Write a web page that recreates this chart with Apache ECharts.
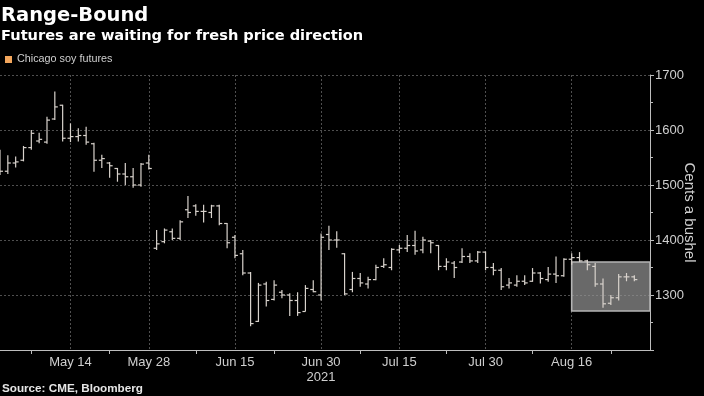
<!DOCTYPE html>
<html><head><meta charset="utf-8">
<script src="https://cdn.jsdelivr.net/npm/echarts@6/dist/echarts.min.js"></script>
<style>html,body{margin:0;padding:0;background:#000}#c{width:704px;height:396px}</style>
</head><body><div id="c"></div>
<script>
// Trading days shown (May 3 – Aug 26, 2021)
const dates = ['May 3','May 4','May 5','May 6','May 7','May 10','May 11','May 12','May 13','May 14',
 'May 17','May 18','May 19','May 20','May 21','May 24','May 25','May 26','May 27','May 28',
 'Jun 1','Jun 2','Jun 3','Jun 4','Jun 7','Jun 8','Jun 9','Jun 10','Jun 11','Jun 14','Jun 15',
 'Jun 16','Jun 17','Jun 18','Jun 21','Jun 22','Jun 23','Jun 24','Jun 25','Jun 28','Jun 29','Jun 30',
 'Jul 1','Jul 2','Jul 6','Jul 7','Jul 8','Jul 9','Jul 12','Jul 13','Jul 14','Jul 15',
 'Jul 16','Jul 19','Jul 20','Jul 21','Jul 22','Jul 23','Jul 26','Jul 27','Jul 28','Jul 29','Jul 30',
 'Aug 2','Aug 3','Aug 4','Aug 5','Aug 6','Aug 9','Aug 10','Aug 11','Aug 12','Aug 13','Aug 16',
 'Aug 17','Aug 18','Aug 19','Aug 20','Aug 23','Aug 24','Aug 25','Aug 26'];
const openP  = [1550,1525,1540,1545,1568,1580,1578,1620,1645,1585,1588,1590,1575,1545,1540,1530,1520,1515,1500,1540,
 1385,1397,1415,1403,1455,1462,1452,1450,1462,1430,1405,1375,1340,1252,1320,1292,1305,1300,1290,1270,1310,1300,
 1410,1400,1375,1310,1330,1320,1328,1352,1350,1382,1385,1390,1382,1398,1390,1352,1358,1360,1370,1362,1378,
 1350,1345,1318,1318,1325,1325,1340,1328,1338,1335,1365,1368,1362,1352,1320,1285,1295,1333,1333];
const highP  = [1564,1554,1552,1571,1600,1595,1624,1670,1646,1612,1603,1606,1577,1555,1542,1531,1540,1531,1540,1555,
 1418,1421,1421,1436,1480,1465,1464,1464,1464,1431,1409,1382,1342,1322,1324,1327,1309,1303,1305,1318,1327,1412,
 1426,1416,1376,1342,1340,1333,1355,1367,1385,1391,1409,1417,1406,1400,1391,1367,1362,1385,1376,1380,1379,
 1358,1349,1331,1336,1336,1349,1342,1351,1370,1367,1376,1378,1364,1358,1330,1300,1338,1340,1336];
const lowP   = [1518,1520,1532,1543,1564,1576,1575,1618,1579,1578,1579,1573,1524,1531,1513,1506,1500,1495,1497,1528,
 1382,1394,1400,1400,1440,1444,1432,1440,1427,1385,1367,1336,1243,1251,1279,1290,1294,1262,1262,1270,1305,1290,
 1382,1386,1300,1305,1315,1312,1327,1349,1345,1376,1378,1373,1376,1376,1345,1345,1331,1358,1358,1358,1345,
 1336,1309,1312,1315,1318,1324,1321,1324,1322,1333,1355,1360,1345,1315,1277,1282,1290,1325,1325];
const closeP = [1525,1540,1542,1568,1594,1583,1618,1642,1585,1588,1590,1578,1545,1548,1535,1520,1515,1500,1538,1530,
 1393,1418,1403,1433,1450,1452,1452,1462,1430,1395,1372,1340,1248,1318,1290,1318,1300,1290,1268,1312,1306,1405,
 1400,1400,1302,1330,1322,1328,1350,1355,1383,1385,1390,1380,1400,1395,1352,1360,1350,1370,1362,1378,1350,
 1345,1315,1322,1325,1322,1340,1330,1338,1335,1365,1368,1362,1355,1320,1284,1295,1333,1333,1328];
const xTickLabels = ['May 14','May 28','Jun 15','Jun 30','Jul 15','Jul 30','Aug 16'];
const xMinorTicks = ['May 7','May 21','Jun 8','Jun 22','Jul 8','Jul 23','Aug 9','Aug 23'];
const yearLabel = '2021';
const padSlots = ['', ' '];
// highlighted range box
const boxStart = 'Aug 16', boxLow = 1271, boxHigh = 1360;

const categories = dates.concat(padSlots);
const ohlc = dates.map((d, i) => [i, openP[i], highP[i], lowP[i], closeP[i]]);
const barColor = '#d8d2cc';
const axisColor = '#bdbdbd';
const labelColor = '#cfcfcf';

const chart = echarts.init(document.getElementById('c'), null, {renderer: 'canvas'});
chart.setOption({
  backgroundColor: '#000',
  animation: false,
  title: [
    {text: 'Range-Bound', left: 1, top: 6, padding: 0,
     textStyle: {color: '#fff', fontSize: 19.5, fontWeight: 'bold', fontFamily: 'DejaVu Sans'}},
    {text: 'Futures are waiting for fresh price direction', left: 1, top: 29, padding: 0,
     textStyle: {color: '#fff', fontSize: 14.6, fontWeight: 'bold', fontFamily: 'DejaVu Sans'}},
    {text: 'Source: CME, Bloomberg', left: 2, top: 383, padding: 0,
     textStyle: {color: '#e6e6e6', fontSize: 11.7, fontWeight: 'bold', fontFamily: 'Liberation Sans'}}
  ],
  legend: {
    left: 5, top: 54, padding: 0, itemWidth: 7, itemHeight: 7,
    textStyle: {color: labelColor, fontSize: 10.8, fontFamily: 'Liberation Sans'},
    data: [{name: 'Chicago soy futures', icon: 'rect', itemStyle: {color: '#f2a65c'}}]
  },
  grid: {left: 0, right: 54, top: 75, bottom: 46, containLabel: false, outerBoundsMode: 'none'},
  xAxis: {
    type: 'category', data: categories, boundaryGap: false,
    axisLine: {show: true, lineStyle: {color: axisColor, width: 1}},
    axisTick: {show: true, length: 4, interval: (i, v) => xMinorTicks.includes(v),
               lineStyle: {color: axisColor}},
    axisLabel: {interval: (i, v) => xTickLabels.includes(v), color: labelColor, fontSize: 13,
                fontFamily: 'Liberation Sans', margin: 5, lineHeight: 15,
                formatter: v => v === 'Jun 30' ? v + '\n' + yearLabel : v},
    splitLine: {show: true, interval: (i, v) => xTickLabels.includes(v),
                lineStyle: {color: '#4f4f4f', type: [2, 2], width: 1}}
  },
  yAxis: {
    type: 'value', position: 'right', min: 1200, max: 1700, interval: 100,
    axisLine: {show: true, lineStyle: {color: axisColor, width: 1}},
    axisTick: {show: true, length: 4, lineStyle: {color: axisColor}},
    minorTick: {show: true, splitNumber: 2, length: 3, lineStyle: {color: axisColor}},
    axisLabel: {color: labelColor, fontSize: 13, fontFamily: 'Liberation Sans', margin: 5,
                formatter: v => v === 1200 ? '' : String(v)},
    splitLine: {show: true, lineStyle: {color: '#4f4f4f', type: [2, 2], width: 1}},
    name: 'Cents a bushel', nameLocation: 'middle', nameRotate: -90, nameGap: 32, nameMoveOverlap: false,
    nameTextStyle: {color: labelColor, fontSize: 15, fontFamily: 'Liberation Sans'}
  },
  series: [
    {
      type: 'custom', name: 'range box', z: 1, silent: true,
      data: [[categories.indexOf(boxStart), boxLow, boxHigh]],
      renderItem: function (params, api) {
        const p0 = api.coord([api.value(0), api.value(2)]);
        const p1 = api.coord([api.value(0), api.value(1)]);
        const cs = params.coordSys;
        return {type: 'rect', shape: {x: p0[0], y: p0[1], width: cs.x + cs.width - p0[0], height: p1[1] - p0[1]},
                style: {fill: 'rgba(150,150,150,0.7)', stroke: '#b4b4b4', lineWidth: 1.6}};
      }
    },
    {
      type: 'custom', name: 'Chicago soy futures', z: 3,
      itemStyle: {color: '#f2a65c'},
      encode: {x: 0, y: [1, 2, 3, 4]},
      data: ohlc,
      renderItem: function (params, api) {
        const x = api.value(0);
        const o = api.coord([x, api.value(1)]);
        const h = api.coord([x, api.value(2)]);
        const l = api.coord([x, api.value(3)]);
        const c = api.coord([x, api.value(4)]);
        const w = 3;
        const st = {stroke: barColor, lineWidth: 1.2};
        return {type: 'group', children: [
          {type: 'line', shape: {x1: h[0], y1: h[1], x2: l[0], y2: l[1]}, style: st},
          {type: 'line', shape: {x1: o[0] - w, y1: o[1], x2: o[0], y2: o[1]}, style: st},
          {type: 'line', shape: {x1: c[0], y1: c[1], x2: c[0] + w, y2: c[1]}, style: st}
        ]};
      }
    }
  ]
});
</script></body></html>
